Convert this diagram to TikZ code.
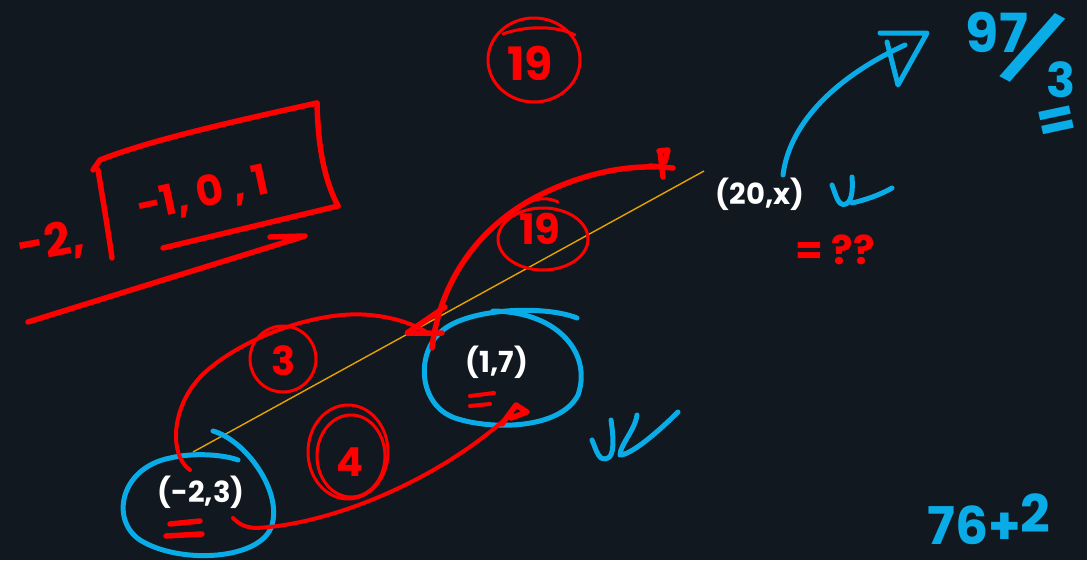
\documentclass[tikz,border=0pt]{standalone}
\usepackage{fontspec}
\setmainfont{Poppins}
\usetikzlibrary{arrows.meta}
\definecolor{board}{RGB}{17,24,31}
\definecolor{pen}{RGB}{255,0,0}
\definecolor{sky}{RGB}{10,172,232}
\definecolor{amber}{RGB}{232,162,0}
\begin{document}
\begin{tikzpicture}[x=1pt,y=-1pt,
  ink/.style={line cap=round,line join=round},
  redthick/.style={ink,draw=pen,line width=5.5pt},
  redmid/.style={ink,draw=pen,line width=4pt},
  redthin/.style={ink,draw=pen,line width=3pt},
  bluepen/.style={ink,draw=sky,line width=5pt},
  guide/.style={draw=amber,line width=1.4pt},
  pt/.style={text=white,font=\fontsize{29}{30}\selectfont\bfseries,inner sep=0pt},
  redhand/.style={text=pen,inner sep=0pt},
  bluehand/.style={text=sky,inner sep=0pt}]
\fill[board] (0,0) rectangle (1087,560);
\useasboundingbox (0,0) rectangle (1087,560);

% guide line
\coordinate (g1) at (193,452);
\coordinate (g2) at (704,171);
\draw[guide] (g1) -- (g2);

% points
\node[pt] (p1) at (201,492) {(-2,3)};
\node[pt] (p2) at (497,362) {(1,7)};
\node[pt] (p3) at (760,194) {(20,x)};

% blue loops round the points
\draw[bluepen] (213,431) .. controls (245,440) and (282,490) .. (272,525)
  .. controls (262,560) and (180,565) .. (140,540)
  .. controls (110,520) and (120,468) .. (170,458)
  .. controls (195,452) and (225,455) .. (238,460);
\draw[bluepen] (577,318) .. controls (545,305) and (470,308) .. (443,330)
  .. controls (415,352) and (418,405) .. (455,418)
  .. controls (490,430) and (560,430) .. (578,395)
  .. controls (592,355) and (560,312) .. (493,311);

% red "=" marks under the points
\draw[redthick] (170,524) -- (200,521);
\draw[redthick] (166,536) -- (202,534);
\draw[redmid] (470,396) -- (494,393);
\draw[redmid] (470,406) -- (490,404);

% bottom red connector (-2,3) -> (1,7)
\coordinate (b1) at (233,518);
\coordinate (b2) at (512,413);
\draw[redmid] (b1) .. controls (240,525) and (245,527) .. (255,528)
  .. controls (330,525) and (440,480) .. (b2);
\draw[redthick] (502,424) -- (516,405) -- (527,412) -- (511,418);

% upper red loop (-2,3) -> arrow
\coordinate (u1) at (190,470);
\coordinate (u2) at (425,331);
\draw[redmid] (u1) .. controls (168,455) and (170,400) .. (210,368)
  .. controls (250,335) and (320,310) .. (370,315)
  .. controls (400,318) and (415,326) .. (u2);
\draw[redthick] (445,307) -- (407,333) -- (442,333);

% red connector rising towards (20,x)
\coordinate (r1) at (432,348);
\coordinate (r2) at (655,167);
\draw[redthick] (r1) .. controls (440,280) and (480,225) .. (540,195)
  .. controls (580,175) and (620,166) .. (r2);
\draw[redthick] (650,166) -- (673,168);
\draw[redthick] (659,151) -- (668,150) -- (665,162);
\draw[redthick] (660,151) -- (663,177);

% circled numbers
\draw[redthin] (283,359) ellipse [x radius=33pt, y radius=33pt];
\node[redhand,font=\fontsize{40}{42}\selectfont\bfseries] (c3) at (284,361) {3};
\draw[redthin] (348,452) ellipse [x radius=40pt, y radius=47pt];
\draw[redthin] (351,456) ellipse [x radius=34pt, y radius=41pt];
\node[redhand,font=\fontsize{40}{42}\selectfont\bfseries] (c4) at (350,462) {4};
\draw[redthin] (543,239) ellipse [x radius=45pt, y radius=31pt];
\draw[redthin] (528,203) .. controls (538,197) and (550,198) .. (558,202);
\node[redhand,font=\fontsize{42}{44}\selectfont\bfseries] (c19a) at (540,229) {19};
\draw[redthin] (534,60) ellipse [x radius=46pt, y radius=42pt];
\draw[redthin] (503,34) .. controls (525,26) and (555,25) .. (575,35);
\node[redhand,font=\fontsize{46}{48}\selectfont\bfseries] (c19b) at (530,63) {19};

% left: list with box
\node[redhand,font=\fontsize{46}{48}\selectfont\bfseries,rotate=10] (m2) at (51,243) {-2,};
\draw[redthick] (98,170) .. controls (103,200) and (108,230) .. (112,258);
\draw[redthick] (93,170) -- (100,160) .. controls (150,140) and (240,120) .. (317,103);
\draw[redthick] (317,103) .. controls (318,140) and (322,175) .. (338,206);
\draw[redthick] (338,206) -- (163,248);
\node[redhand,font=\fontsize{42}{44}\selectfont\bfseries,rotate=12] (lst) at (203,195) {-1, 0 , 1};
\draw[redthick] (270,237) -- (305,236) -- (28,322);

% right: (20,x) -> result
\coordinate (a1) at (783,175);
\coordinate (a2) at (905,45);
\draw[bluepen] (a1) .. controls (790,120) and (840,75) .. (a2);
\draw[bluepen] (880,33) -- (927,33) -- (898,85) -- (887,42);
\node[bluehand,font=\fontsize{54}{56}\selectfont\bfseries] (n97) at (997,32) {97};
\node[bluehand,font=\fontsize{72}{74}\selectfont\bfseries,rotate=-28] (nsl) at (1033,48) {/};
\node[bluehand,font=\fontsize{48}{50}\selectfont\bfseries] (n3) at (1061,80) {3};
\node[bluehand,font=\fontsize{56}{58}\selectfont\bfseries,rotate=12] (neq) at (1057,124) {=};

% ticks
\draw[bluepen] (832,185) .. controls (836,195) and (838,207) .. (846,204)
  .. controls (852,201) and (853,190) .. (852,177);
\draw[bluepen] (852,203) .. controls (865,200) and (880,195) .. (892,188);
\draw[bluepen] (592,440) .. controls (597,452) and (599,462) .. (608,458)
  .. controls (614,455) and (614,440) .. (611,420);
\draw[bluepen] (637,415) .. controls (635,430) and (620,445) .. (620,455)
  .. controls (630,455) and (655,435) .. (678,412);

% question
\node[redhand,font=\fontsize{40}{42}\selectfont\bfseries] (q) at (835,250) {= ??};

% bottom right
\node[bluehand,font=\fontsize{52}{54}\selectfont\bfseries,anchor=west] (sum) at (927,519) {76+\raisebox{12pt}{2}};
\end{tikzpicture}
\end{document}
